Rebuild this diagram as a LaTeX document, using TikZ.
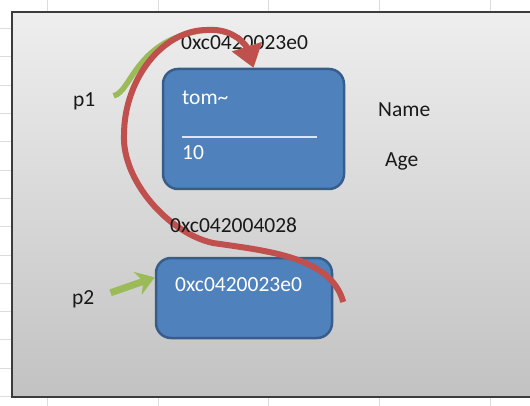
\documentclass[tikz,border=0pt]{standalone}
\usepackage{fontspec}
\setmainfont{Carlito}
\usepackage{xcolor}
\usepackage{tikz}
\usetikzlibrary{positioning,arrows.meta,calc}
\definecolor{cellgrid}{HTML}{DADCDD}
\definecolor{panelTop}{HTML}{EEEEEE}
\definecolor{panelBottom}{HTML}{C2C2C2}
\definecolor{panelEdge}{HTML}{3C3C3C}
\definecolor{boxFill}{HTML}{4F81BD}
\definecolor{boxEdge}{HTML}{385D8A}
\definecolor{ptrRed}{HTML}{C0504D}
\definecolor{ptrGreen}{HTML}{9BBB59}
\definecolor{sepLine}{HTML}{DCE6F2}
\tikzset{
  membox/.style={rectangle, rounded corners=15pt, draw=boxEdge, line width=2.5pt, fill=boxFill, inner sep=0pt},
  plainlabel/.style={anchor=base west, inner sep=0pt, font=\fontsize{21.5}{24}\selectfont, text=black!90},
  boxlabel/.style={plainlabel, text=white},
  refarrow/.style={-{Triangle[width=30pt,length=22pt]}, line width=6pt, ptrRed},
  ptrarrow/.style={-{Triangle[width=30pt,length=22pt]}, line width=5.5pt, ptrGreen},
  shortptr/.style={-{Stealth[width=24pt,length=18pt,inset=6pt]}, line width=7pt, ptrGreen}
}

\begin{document}
\begin{tikzpicture}[x=1pt,y=-1pt]
\clip (0,0) rectangle (530,406);
\fill[white] (0,0) rectangle (530,406);
% sheet cells behind the panel
\foreach \gx in {47,158,268,379,490} \draw[cellgrid] (\gx,0) -- (\gx,406);
\foreach \gy in {28.3,56.6,...,400} \draw[cellgrid] (0,\gy) -- (530,\gy);
\draw[panelEdge, line width=1.5pt, top color=panelTop, bottom color=panelBottom] (12,12) rectangle (540,397);

% memory blocks
\node[membox, minimum width=181pt, minimum height=120pt] (obj) at (253.5,129) {};
\node[membox, minimum width=176pt, minimum height=80pt] (ptr) at (244,298) {};

\node[plainlabel] (addr1) at (181,50) {0xc0420023e0};
\node[plainlabel] (p1) at (73,107) {p1};
\node[plainlabel] (fname) at (378,117) {Name};
\node[plainlabel] (fage) at (385,167) {Age};
\node[boxlabel] (nameval) at (182,105) {tom\textasciitilde};
\node[boxlabel] (ageval) at (182,160) {10};
\draw[sepLine, line width=2pt] ($(obj.north west)+(20,69)$) -- ($(obj.north east)+(-28,69)$);
\node[plainlabel] (p2) at (72,304) {p2};
\node[boxlabel] (ptrval) at (175,291) {0xc0420023e0};

% pointers
\draw[ptrarrow] ($(p1.east)+(18,-6)$) .. controls (132,92) and (135,38) .. (207,30) .. controls (235,28) and (247,47) .. (obj.north);
\draw[refarrow] ($(ptr.east)+(10,4)$) .. controls (331,257) and (268,251) .. (213,243) .. controls (168,233) and (122,180) .. (124,135) .. controls (124,80) and (162,30) .. (207,30) .. controls (235,28) and (247,47) .. (obj.north);
\draw[shortptr] ($(p2.east)+(16,-6)$) -- (ptr.167);

\node[plainlabel] (addr2) at (170,233) {0xc042004028};
\end{tikzpicture}
\end{document}
